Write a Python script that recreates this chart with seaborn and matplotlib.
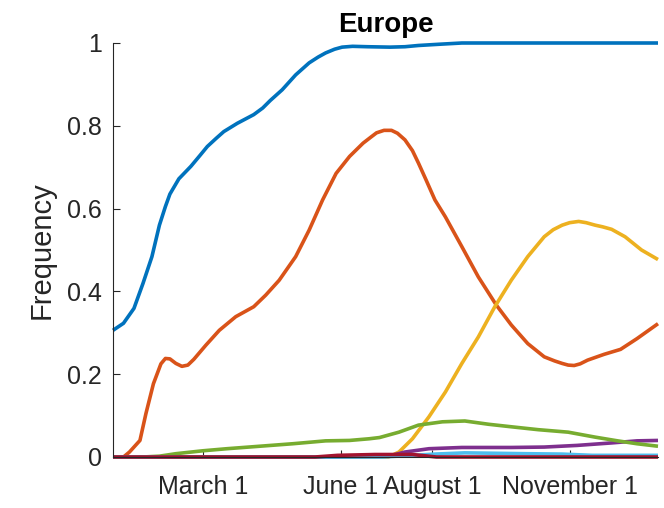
import numpy as np
import pandas as pd
import matplotlib
matplotlib.use("Agg")
import matplotlib.pyplot as plt
import seaborn as sns

# Frequencies over 2020, x given as days since 1 January 2020
blue_day = [0, 7, 14, 20, 26, 31, 35, 38, 44, 52, 58, 63, 69, 74, 83, 94, 100, 105, 113, 122, 131, 137, 142, 148, 153, 160, 170, 185, 195, 204, 218, 233, 250, 266, 300, 364]
blue_val = [0.306, 0.323, 0.359, 0.419, 0.484, 0.56, 0.605, 0.635, 0.672, 0.702, 0.728, 0.75, 0.77, 0.786, 0.806, 0.827, 0.843, 0.861, 0.887, 0.923, 0.952, 0.966, 0.976, 0.985, 0.99, 0.992, 0.991, 0.99, 0.991, 0.994, 0.997, 1.0, 1.0, 1.0, 1.0, 1.0]

orange_day = [0, 7, 11, 18, 22, 27, 32, 35, 38, 42, 46, 50, 54, 62, 71, 82, 94, 102, 111, 122, 131, 140, 149, 158, 167, 172, 176, 181, 186, 190, 195, 200, 204, 209, 215, 222, 233, 244, 256, 266, 277, 288, 295, 300, 304, 308, 312, 317, 328, 339, 350, 364]
orange_val = [0, 0, 0.012, 0.04, 0.105, 0.177, 0.225, 0.238, 0.237, 0.226, 0.219, 0.222, 0.236, 0.27, 0.306, 0.339, 0.363, 0.391, 0.427, 0.484, 0.548, 0.621, 0.685, 0.726, 0.758, 0.772, 0.783, 0.789, 0.789, 0.782, 0.766, 0.74, 0.71, 0.67, 0.621, 0.58, 0.508, 0.435, 0.367, 0.319, 0.274, 0.242, 0.232, 0.226, 0.222, 0.221, 0.225, 0.234, 0.248, 0.26, 0.286, 0.322]

yellow_day = [0, 184, 191, 200, 211, 222, 233, 244, 255, 266, 277, 288, 294, 300, 305, 311, 316, 322, 327, 333, 342, 353, 364]
yellow_val = [0, 0, 0.012, 0.044, 0.097, 0.157, 0.226, 0.29, 0.363, 0.427, 0.484, 0.532, 0.549, 0.56, 0.566, 0.569, 0.566, 0.56, 0.556, 0.55, 0.532, 0.5, 0.477]

purple_day = [0, 150, 184, 195, 211, 233, 266, 288, 310, 333, 350, 364]
purple_val = [0, 0, 0.002, 0.012, 0.02, 0.023, 0.023, 0.024, 0.028, 0.034, 0.039, 0.04]

green_day = [0, 20, 31, 42, 60, 76, 98, 120, 142, 158, 171, 178, 191, 204, 220, 235, 251, 266, 284, 304, 322, 337, 350, 364]
green_val = [0, 0, 0.002, 0.008, 0.015, 0.02, 0.026, 0.032, 0.039, 0.04, 0.044, 0.047, 0.06, 0.077, 0.085, 0.087, 0.079, 0.073, 0.066, 0.06, 0.048, 0.039, 0.032, 0.026]

lightblue_day = [0, 180, 195, 215, 235, 255, 275, 300, 320, 364]
lightblue_val = [0, 0, 0.003, 0.007, 0.01, 0.009, 0.008, 0.007, 0.004, 0.004]

red_day = [0, 135, 150, 175, 200, 208, 216, 364]
red_val = [0, 0, 0.004, 0.006, 0.006, 0.003, 0, 0]

tick_dates = ["2020-03-01", "2020-06-01", "2020-08-01", "2020-11-01"]
tick_labels = ["March 1", "June 1", "August 1", "November 1"]
ytick_vals = [0, 0.2, 0.4, 0.6, 0.8, 1]
ytick_labels = ["0", "0.2", "0.4", "0.6", "0.8", "1"]

start = pd.Timestamp("2020-01-01")


def to_dates(days):
    return start + pd.to_timedelta(np.asarray(days, dtype=float), unit="D")


series = [
    (blue_day, blue_val, "#0072BD"),
    (orange_day, orange_val, "#D95319"),
    (yellow_day, yellow_val, "#EDB120"),
    (purple_day, purple_val, "#7E2F8E"),
    (green_day, green_val, "#77AC30"),
    (lightblue_day, lightblue_val, "#4DBEEE"),
    (red_day, red_val, "#A2142F"),
]

sns.set_theme(style="white")
plt.rcParams["font.family"] = ["Liberation Sans", "DejaVu Sans"]

fig = plt.figure(figsize=(6.64, 5.08), dpi=100)
ax = fig.add_axes([113 / 664, 1 - 457 / 508, (658 - 113) / 664, (457 - 43) / 508])

for days, vals, color in series:
    sns.lineplot(x=to_dates(days), y=vals, color=color, linewidth=2.6,
                 ax=ax, clip_on=False, solid_capstyle="butt",
                 solid_joinstyle="round")

ax.set_xlim(start, start + pd.Timedelta(days=364))
ax.set_ylim(0, 1)
ax.set_xticks(pd.to_datetime(tick_dates))
ax.set_xticklabels(tick_labels)
ax.set_yticks(ytick_vals)
ax.set_yticklabels(ytick_labels)

axis_color = "#262626"
ax.tick_params(axis="both", direction="in", length=5, width=0.8,
               colors=axis_color, labelsize=18)
ax.tick_params(axis="x", pad=13, bottom=True)
ax.tick_params(axis="y", pad=8, left=True)

sns.despine(ax=ax)
for side in ("left", "bottom"):
    ax.spines[side].set_color(axis_color)
    ax.spines[side].set_linewidth(0.8)

ax.set_xlabel("")
ax.set_ylabel("Frequency", fontsize=21, color=axis_color, labelpad=8)
ax.set_title("Europe", fontsize=20, fontweight="bold", color="black", pad=8)

fig.savefig("out.png", dpi=100)
